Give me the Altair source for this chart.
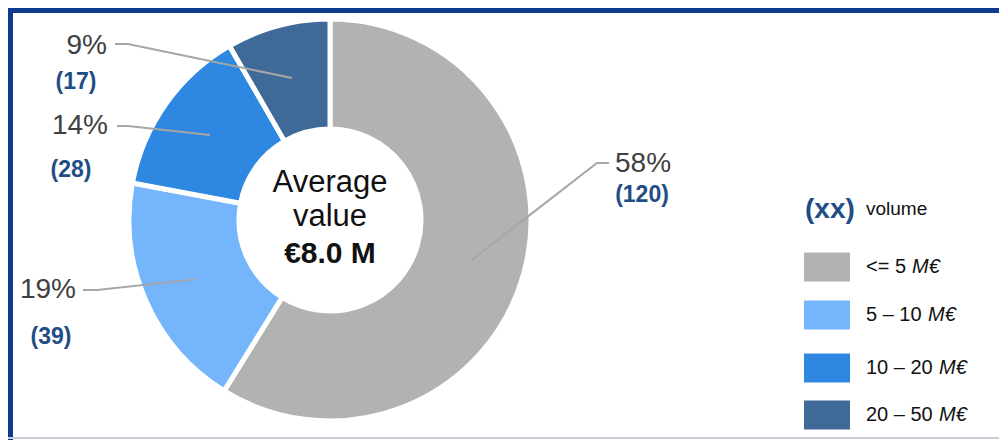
import altair as alt
import pandas as pd
import numpy as np

# ---------------- data ----------------
categories = ["<= 5", "5 – 10", "10 – 20", "20 – 50"]
counts = [120, 39, 28, 17]
pct_labels = ["58%", "19%", "14%", "9%"]
count_labels = ["(120)", "(39)", "(28)", "(17)"]
colors = ["#B2B2B2", "#74B5FB", "#2E88E1", "#3F6A98"]
center_lines = ["Average", "value", "€8.0 M"]
legend_title = "(xx)"
legend_subtitle = "volume"
unit = "M€"

# ---------------- layout (page pixels) ----------------
OFF = 8
W, H = 991, 432
CX, CY = 330, 220
R_OUT, R_IN, R_LEAD = 199, 93, 147
elbow = [(597, 163), (97, 290), (128, 126), (128, 44)]
lead_end = [(609, 163), (83, 290), (117, 126), (115, 44)]
pct_pos = [(615, 164), (76, 290), (108, 126), (107, 46)]
pct_align = ["left", "right", "right", "right"]
cnt_pos = [(642, 195), (51, 337), (71, 170), (76, 82)]
center_base = [192, 226, 263]
leg_rows = [267, 315, 368, 415]
leg_sw_x = (804, 850)
leg_sw_h = 29
leg_txt_x = 866
leg_unit_x = [912, 928, 939, 939]

FONT = "Liberation Sans"
PCT_COLOR = "#404040"
CNT_COLOR = "#1F4E85"
LINE_COLOR = "#A6A6A6"
BORDER = "#0B3B8A"


def X(f):
    return alt.X(f, type="quantitative", scale=alt.Scale(domain=[0, W], nice=False, zero=False), axis=None)


def Y(f):
    return alt.Y(f, type="quantitative", scale=alt.Scale(domain=[0, H], nice=False, zero=False, reverse=True), axis=None)


def X2(f):
    return alt.X2(f)


def Y2(f):
    return alt.Y2(f)


# ---------------- donut ----------------
df = pd.DataFrame({"cat": categories, "n": counts, "order": list(range(len(counts)))})
arcs = alt.Chart(df).mark_arc(
    innerRadius=R_IN - 2, outerRadius=R_OUT + 2, stroke="white", strokeWidth=5
).encode(
    theta=alt.Theta("n:Q", stack=True),
    order=alt.Order("order:Q"),
    color=alt.Color("cat:N", scale=alt.Scale(domain=categories, range=colors), legend=None),
    x=alt.value(CX - OFF),
    y=alt.value(CY - OFF),
)

# ---------------- leader lines ----------------
n = np.array(counts, dtype=float)
fr = n / n.sum()
mid = (np.cumsum(fr) - fr / 2) * 2 * np.pi
rows = []
for i in range(len(counts)):
    sx = CX + R_LEAD * np.sin(mid[i])
    sy = CY - R_LEAD * np.cos(mid[i])
    pts = [(sx, sy), elbow[i], lead_end[i]]
    for k, (px, py) in enumerate(pts):
        rows.append({"id": i, "k": k, "x": px - OFF, "y": py - OFF})
lead_df = pd.DataFrame(rows)
leaders = alt.Chart(lead_df).mark_line(color=LINE_COLOR, strokeWidth=2).encode(
    x=X("x"), y=Y("y"), detail="id:N", order="k:Q"
)

# ---------------- labels ----------------
pct_df = pd.DataFrame({
    "t": pct_labels,
    "x": [p[0] - OFF for p in pct_pos],
    "y": [p[1] - OFF for p in pct_pos],
    "a": pct_align,
})
pct_left = alt.Chart(pct_df).transform_filter(alt.datum.a == "left").mark_text(
    align="left", baseline="middle", fontSize=28, color=PCT_COLOR, font=FONT
).encode(x=X("x"), y=Y("y"), text="t:N")
pct_right = alt.Chart(pct_df).transform_filter(alt.datum.a == "right").mark_text(
    align="right", baseline="middle", fontSize=28, color=PCT_COLOR, font=FONT
).encode(x=X("x"), y=Y("y"), text="t:N")

cnt_df = pd.DataFrame({
    "t": count_labels,
    "x": [p[0] - OFF for p in cnt_pos],
    "y": [p[1] - OFF for p in cnt_pos],
})
cnt = alt.Chart(cnt_df).mark_text(
    align="center", baseline="middle", fontSize=23, fontWeight="bold", color=CNT_COLOR, font=FONT
).encode(x=X("x"), y=Y("y"), text="t:N")

ctr_df = pd.DataFrame({
    "t": center_lines,
    "x": [CX - OFF] * 3,
    "y": [b - OFF for b in center_base],
    "w": ["normal", "normal", "bold"],
})
ctr_norm = alt.Chart(ctr_df).transform_filter(alt.datum.w == "normal").mark_text(
    align="center", baseline="alphabetic", fontSize=31, color="#111111", font=FONT
).encode(x=X("x"), y=Y("y"), text="t:N")
ctr_bold = alt.Chart(ctr_df).transform_filter(alt.datum.w == "bold").mark_text(
    align="center", baseline="alphabetic", fontSize=30, fontWeight="bold", color="#111111", font=FONT
).encode(x=X("x"), y=Y("y"), text="t:N")

# ---------------- legend ----------------
leg_df = pd.DataFrame({
    "cat": categories,
    "x": [leg_sw_x[0] - OFF] * 4,
    "x2": [leg_sw_x[1] - OFF] * 4,
    "y": [r - leg_sw_h / 2 - OFF for r in leg_rows],
    "y2": [r + leg_sw_h / 2 - OFF for r in leg_rows],
    "ty": [r - OFF for r in leg_rows],
    "tx": [leg_txt_x - OFF] * 4,
    "ux": [u - OFF for u in leg_unit_x],
    "unit": [unit] * 4,
})
leg_sw = alt.Chart(leg_df).mark_rect().encode(
    x=X("x"), x2=X2("x2"), y=Y("y"), y2=Y2("y2"),
    color=alt.Color("cat:N", scale=alt.Scale(domain=categories, range=colors), legend=None),
)
leg_txt = alt.Chart(leg_df).mark_text(
    align="left", baseline="middle", fontSize=20, color="#111111", font=FONT
).encode(x=X("tx"), y=Y("ty"), text="cat:N")
leg_unit = alt.Chart(leg_df).mark_text(
    align="left", baseline="middle", fontSize=20, fontStyle="italic", color="#111111", font=FONT
).encode(x=X("ux"), y=Y("ty"), text="unit:N")

title_df = pd.DataFrame({
    "t": [legend_title, legend_subtitle],
    "x": [805 - OFF, 866 - OFF],
    "y": [218 - OFF, 215 - OFF],
    "k": ["title", "sub"],
})
leg_title = alt.Chart(title_df).transform_filter(alt.datum.k == "title").mark_text(
    align="left", baseline="alphabetic", fontSize=28, fontWeight="bold", color=CNT_COLOR, font=FONT
).encode(x=X("x"), y=Y("y"), text="t:N")
leg_sub = alt.Chart(title_df).transform_filter(alt.datum.k == "sub").mark_text(
    align="left", baseline="alphabetic", fontSize=19, color="#111111", font=FONT
).encode(x=X("x"), y=Y("y"), text="t:N")

# ---------------- frame ----------------
frame_df = pd.DataFrame({
    "x": [0, 0, 0],
    "x2": [W, 5, W],
    "y": [0, 0, 437 - OFF],
    "y2": [5, H, 439 - OFF],
    "c": [BORDER, BORDER, "#C8CDD6"],
})
frame = alt.Chart(frame_df).mark_rect().encode(
    x=X("x"), x2=X2("x2"), y=Y("y"), y2=Y2("y2"),
    color=alt.Color("c:N", scale=None),
)

chart = alt.layer(
    frame, arcs, leaders, pct_left, pct_right, cnt, ctr_norm, ctr_bold,
    leg_sw, leg_txt, leg_unit, leg_title, leg_sub,
).resolve_scale(color="independent").properties(
    width=W, height=H, padding=0, background="white"
).configure_view(stroke=None)

chart.save("out.html", embed_options={"renderer": "svg", "actions": False})
